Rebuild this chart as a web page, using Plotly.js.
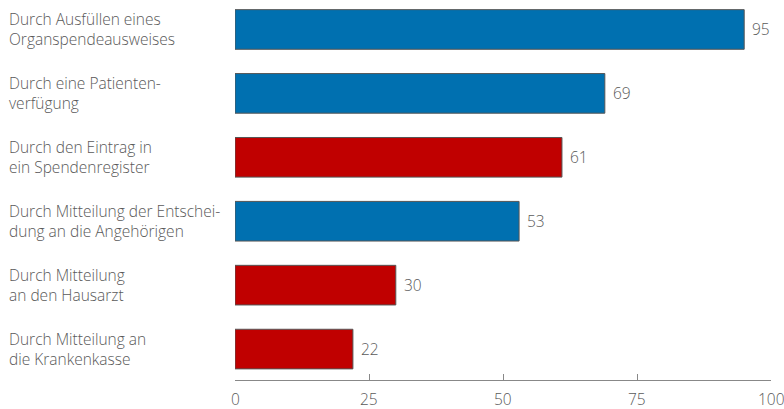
<!DOCTYPE html>
<html><head><meta charset="utf-8">
<script src="https://cdn.plot.ly/plotly-3.0.1.min.js"></script>
<style>html,body{margin:0;padding:0;background:#fff}#chart{width:784px;height:409px}</style>
</head><body><div id="chart"></div>
<script>
const categories = [
  "Durch Ausfüllen eines<br>Organspendeausweises",
  "Durch eine Patienten-<br>verfügung",
  "Durch den Eintrag in<br>ein Spendenregister",
  "Durch Mitteilung der Entschei-<br>dung an die Angehörigen",
  "Durch Mitteilung<br>an den Hausarzt",
  "Durch Mitteilung an<br>die Krankenkasse"
];
const values = [95, 69, 61, 53, 30, 22];
const barColors = ["#0070B0", "#0070B0", "#C00000", "#0070B0", "#C00000", "#C00000"];
const tickVals = [0, 25, 50, 75, 100];

const fontFam = "'Open Sans', 'Segoe UI', sans-serif";
const txtColor = "#595959";
const ypos = categories.map((c, i) => i);
const fnt = {family: fontFam, size: 15.5, color: txtColor, weight: 300};

const trace = {
  type: "bar",
  orientation: "h",
  x: values,
  y: ypos,
  marker: {color: barColors, line: {color: "#555555", width: 1}},
  width: 0.62,
  hoverinfo: "none"
};

const annotations = categories.map((c, i) => ({
  xref: "paper", yref: "y",
  x: (7 - 235) / 536, y: i,
  xanchor: "left", yanchor: "middle", align: "left",
  text: c, showarrow: false,
  font: fnt
})).concat(values.map((v, i) => ({
  xref: "x", yref: "y", x: v, y: i, xshift: 6,
  xanchor: "left", yanchor: "middle",
  text: String(v), showarrow: false, font: fnt
}))).concat(tickVals.map(t => ({
  xref: "x", yref: "paper", x: t, y: 0, yshift: -6,
  xanchor: "center", yanchor: "top",
  text: String(t), showarrow: false, font: fnt
})));

const layout = {
  width: 784, height: 409,
  margin: {l: 235, r: 13, t: 0, b: 29},
  paper_bgcolor: "#fff", plot_bgcolor: "#fff",
  showlegend: false,
  xaxis: {
    range: [0, 100], tickvals: tickVals, showticklabels: false,
    showgrid: false, zeroline: false,
    showline: true, linecolor: "#888888", linewidth: 1,
    ticks: "inside", ticklen: 6, tickcolor: "#888888"
  },
  yaxis: {
    range: [5.484, -0.461], showticklabels: false, showgrid: false,
    zeroline: false, showline: false, ticks: ""
  },
  annotations: annotations
};

Plotly.newPlot("chart", [trace], layout, {displayModeBar: false, staticPlot: true});
</script></body></html>
